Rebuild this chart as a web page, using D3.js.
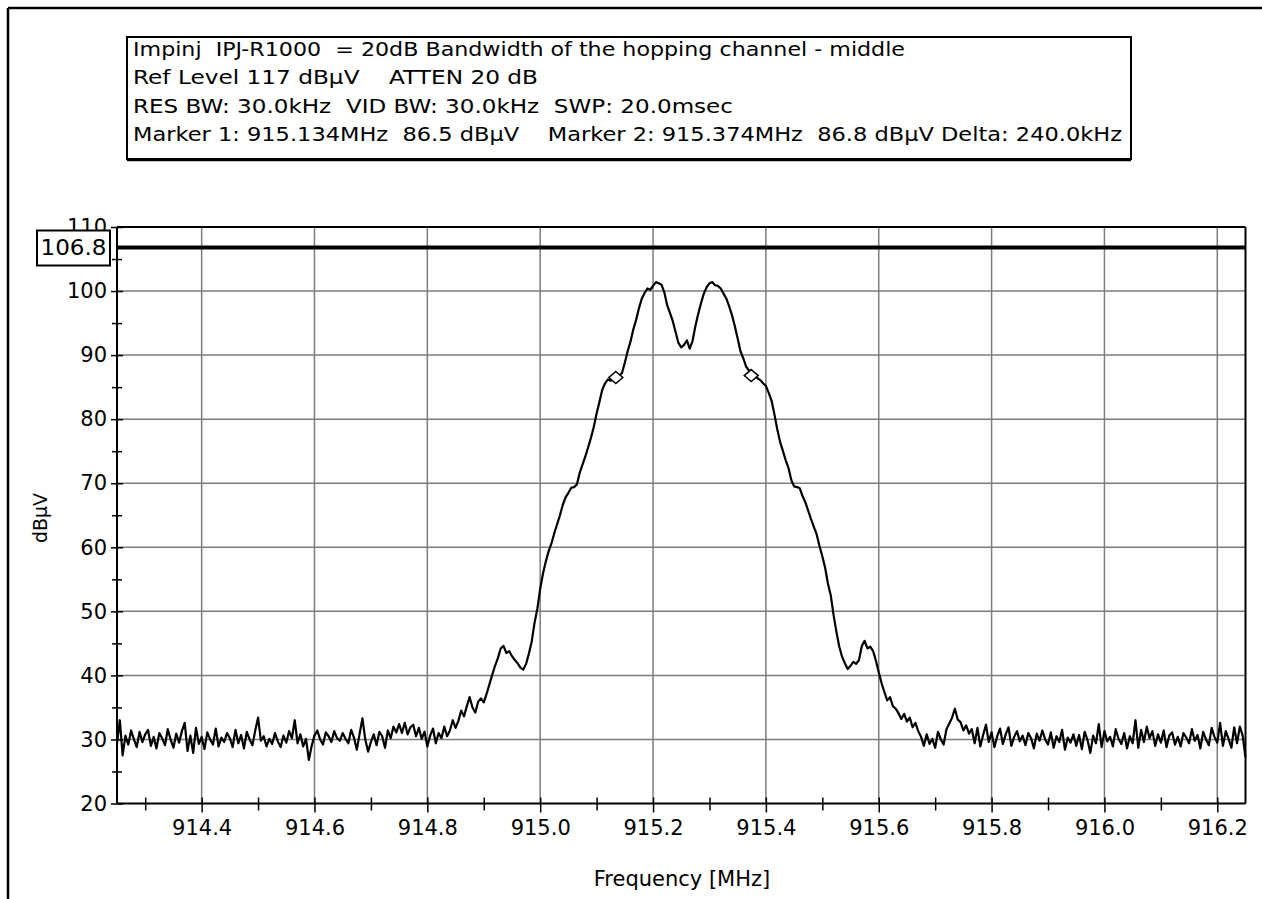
<!DOCTYPE html>
<html><head><meta charset="utf-8">
<script src="https://cdn.jsdelivr.net/npm/d3@7/dist/d3.min.js"></script>
<style>
html,body{margin:0;padding:0;background:#fff;}
svg{display:block;}
text{font-family:"DejaVu Sans",Verdana,sans-serif;fill:#000;}
</style></head>
<body>
<svg id="chart" width="1262" height="899"></svg>
<script>
// ---------- data ----------
const titleLines = [
  "Impinj  IPJ-R1000  = 20dB Bandwidth of the hopping channel - middle",
  "Ref Level 117 dB\u03bcV    ATTEN 20 dB",
  "RES BW: 30.0kHz  VID BW: 30.0kHz  SWP: 20.0msec",
  "Marker 1: 915.134MHz  86.5 dB\u03bcV    Marker 2: 915.374MHz  86.8 dB\u03bcV Delta: 240.0kHz"
];
const titleWidths = [772, 405, 600, 989];
const xTickValues = [914.4, 914.6, 914.8, 915.0, 915.2, 915.4, 915.6, 915.8, 916.0, 916.2];
const xMinorTicks = [914.3, 914.5, 914.7, 914.9, 915.1, 915.3, 915.5, 915.7, 915.9, 916.1];
const yTickValues = [20, 30, 40, 50, 60, 70, 80, 90, 100, 110];
const yMinorTicks = [25, 35, 45, 55, 65, 75, 85, 95, 105];
const freqStart = 914.25, freqStop = 916.25, sweepPoints = 401;
const refLine = 106.8;
const markerFreqs = [915.134, 915.374];
const markerLevels = [86.5, 86.8];
const traceLevels = [
 29.4,33.0,27.5,30.6,29.2,31.4,30.0,28.8,31.2,29.6,30.8,31.5,29.0,30.4,28.6,31.0,30.2,29.1,31.6,30.0,
 28.7,30.9,29.5,31.3,32.6,28.2,30.6,27.9,31.8,29.3,30.4,28.5,31.1,30.0,29.2,31.7,28.9,30.3,29.6,31.0,
 30.2,28.8,31.5,29.4,30.7,28.6,31.2,30.0,29.1,31.4,33.4,29.8,30.5,28.9,30.1,29.3,31.0,29.7,28.8,30.6,
 29.5,31.3,30.2,33.0,29.4,30.8,28.9,30.1,26.8,29.0,30.6,31.4,30.0,29.2,31.1,30.5,29.6,31.3,30.2,29.8,
 31.0,30.1,29.4,31.5,30.3,28.4,30.9,33.3,30.0,28.1,29.6,30.8,29.1,31.2,30.5,28.7,31.4,30.2,32.0,31.1,
 32.4,31.0,32.6,30.8,31.9,32.3,30.5,31.8,30.1,31.2,28.9,30.6,31.7,29.4,31.0,30.2,32.0,30.5,31.4,33.0,
 31.8,32.9,34.5,33.6,35.2,36.6,35.0,34.2,35.9,36.4,35.8,37.1,38.6,40.1,41.5,42.7,44.2,44.6,43.5,43.8,
 43.0,42.4,41.9,41.2,40.9,41.8,43.4,45.3,48.2,50.4,53.5,55.9,57.8,59.4,60.6,62.2,63.6,65.0,66.6,67.8,
 68.5,69.3,69.4,69.8,71.6,72.9,74.2,75.6,77.1,78.8,80.9,82.7,84.6,85.6,86.2,86.0,86.5,86.3,86.8,87.2,
 88.8,90.6,92.1,94.0,95.5,97.3,98.8,99.7,100.4,100.2,100.8,101.4,101.2,101.0,99.8,97.8,96.6,95.3,93.6,91.9,
 91.2,91.6,92.3,91.0,92.2,94.5,96.4,98.1,99.6,100.6,101.2,101.4,100.9,100.8,100.4,99.6,98.8,97.6,96.2,94.5,
 92.6,90.6,89.5,88.2,87.6,87.0,86.9,86.4,86.1,85.6,85.2,84.1,82.9,80.8,78.5,76.5,75.1,73.6,72.4,70.5,
 69.5,69.4,69.2,68.0,67.0,65.7,64.4,63.2,62.0,60.2,58.6,56.8,54.3,52.5,49.4,46.8,44.5,42.9,41.9,41.0,
 41.5,42.1,41.8,42.4,44.6,45.4,44.2,44.5,43.8,42.3,40.5,38.8,37.4,36.1,36.6,35.2,34.8,34.1,33.2,34.0,
 32.8,33.4,31.9,32.6,31.3,30.4,29.0,30.8,29.3,30.1,28.7,31.2,30.0,29.2,31.6,32.5,33.4,34.8,33.1,32.7,
 31.4,32.2,30.9,31.6,29.4,31.8,28.9,30.7,32.3,29.6,31.1,28.8,30.5,31.7,29.3,30.8,31.9,29.0,30.4,31.3,
 29.7,30.6,29.1,31.0,30.2,28.6,30.9,29.8,31.4,30.0,29.2,31.1,28.7,30.5,29.6,31.5,28.4,30.3,29.5,30.8,
 29.0,30.7,28.5,31.2,29.9,27.9,30.6,29.4,32.4,28.8,31.3,29.7,30.4,28.9,31.6,30.1,29.3,31.0,28.6,30.5,
 29.4,33.0,28.7,31.5,29.6,32.0,30.2,31.3,29.0,30.8,29.5,31.4,28.8,30.6,31.1,29.2,30.4,28.9,31.0,30.3,
 29.4,31.6,29.8,30.7,28.6,31.2,30.0,29.1,31.8,30.4,29.5,32.6,29.0,31.3,30.1,28.7,31.9,29.4,32.0,30.6,
 27.2
];

// ---------- layout ----------
const FONT = "DejaVu Sans, Verdana, sans-serif";
const svg = d3.select("#chart");
const x = d3.scaleLinear().domain([freqStart, freqStop]).range([117, 1245.5]);
const y = d3.scaleLinear().domain([20, 110]).range([803.5, 227]);
const step = (freqStop - freqStart) / (sweepPoints - 1);
const trace = traceLevels.map((v, i) => [freqStart + i * step, v]);

// outer frame lines
svg.append("line").attr("x1", 8).attr("x2", 8).attr("y1", 8).attr("y2", 899)
  .attr("stroke", "#000").attr("stroke-width", 2.5);
svg.append("line").attr("x1", 8).attr("x2", 1262).attr("y1", 8).attr("y2", 8)
  .attr("stroke", "#000").attr("stroke-width", 2.5);

// title box
const tb = svg.append("g");
tb.append("rect").attr("x", 127).attr("y", 37).attr("width", 1004).attr("height", 122)
  .attr("fill", "#fff").attr("stroke", "#000").attr("stroke-width", 2);
tb.append("line").attr("x1", 127).attr("x2", 1131).attr("y1", 160.5).attr("y2", 160.5)
  .attr("stroke", "#000").attr("stroke-width", 1.5);
tb.selectAll("text").data(titleLines).join("text")
  .attr("x", 133).attr("y", (d, i) => 55.5 + i * 28.6)
  .attr("font-size", 19).attr("xml:space", "preserve").style("white-space", "pre")
  .attr("textLength", (d, i) => titleWidths[i]).attr("lengthAdjust", "spacingAndGlyphs")
  .text(d => d);

// gridlines
const g = svg.append("g");
g.selectAll("line.vg").data(xTickValues).join("line").attr("class", "vg")
  .attr("x1", d => x(d)).attr("x2", d => x(d)).attr("y1", y(110)).attr("y2", y(20))
  .attr("stroke", "#7d7d7d").attr("stroke-width", 1.5);
g.selectAll("line.hg").data(yTickValues.filter(v => v > 20 && v < 110)).join("line").attr("class", "hg")
  .attr("x1", x(freqStart)).attr("x2", x(freqStop)).attr("y1", d => y(d)).attr("y2", d => y(d))
  .attr("stroke", "#7d7d7d").attr("stroke-width", 1.5);

// y axis (ticks crossing the axis line)
const yAxis = svg.append("g").attr("transform", `translate(${x(freqStart)},0)`)
  .call(d3.axisLeft(y).tickValues(yTickValues).tickSize(6).tickPadding(4).tickFormat(d3.format("d")));
yAxis.select(".domain").remove();
yAxis.selectAll(".tick line").attr("x1", 6).attr("stroke", "#000").attr("stroke-width", 1.5);
yAxis.selectAll(".tick text").attr("font-size", 21).attr("font-family", FONT).attr("fill", "#000");
const yMinor = svg.append("g").attr("transform", `translate(${x(freqStart)},0)`)
  .call(d3.axisLeft(y).tickValues(yMinorTicks).tickSize(5).tickFormat(""));
yMinor.select(".domain").remove();
yMinor.selectAll(".tick line").attr("x1", 5).attr("stroke", "#000").attr("stroke-width", 1.5);

// x axis
const xAxis = svg.append("g").attr("transform", `translate(0,${y(20)})`)
  .call(d3.axisBottom(x).tickValues(xTickValues).tickSize(9).tickPadding(8).tickFormat(d3.format(".1f")));
xAxis.select(".domain").remove();
xAxis.selectAll(".tick line").attr("y1", -6).attr("stroke", "#000").attr("stroke-width", 1.5);
xAxis.selectAll(".tick text").attr("font-size", 21).attr("font-family", FONT).attr("fill", "#000");
const xMinor = svg.append("g").attr("transform", `translate(0,${y(20)})`)
  .call(d3.axisBottom(x).tickValues(xMinorTicks).tickSize(7).tickFormat(""));
xMinor.select(".domain").remove();
xMinor.selectAll(".tick line").attr("y1", -6).attr("stroke", "#000").attr("stroke-width", 1.5);

// plot frame
svg.append("line").attr("x1", x(freqStart)).attr("x2", x(freqStart)).attr("y1", y(110)).attr("y2", y(20))
  .attr("stroke", "#000").attr("stroke-width", 2);
svg.append("line").attr("x1", x(freqStart)).attr("x2", x(freqStop)).attr("y1", y(20)).attr("y2", y(20))
  .attr("stroke", "#000").attr("stroke-width", 2);
svg.append("line").attr("x1", x(freqStart)).attr("x2", x(freqStop)).attr("y1", y(110)).attr("y2", y(110))
  .attr("stroke", "#000").attr("stroke-width", 2);
svg.append("line").attr("x1", x(freqStop)).attr("x2", x(freqStop)).attr("y1", y(110)).attr("y2", y(20))
  .attr("stroke", "#000").attr("stroke-width", 2);

// reference line
svg.append("line").attr("x1", x(freqStart)).attr("x2", x(freqStop)).attr("y1", y(refLine)).attr("y2", y(refLine))
  .attr("stroke", "#000").attr("stroke-width", 4);
const rb = svg.append("g");
rb.append("rect").attr("x", 37).attr("y", y(refLine) - 17).attr("width", 73).attr("height", 35)
  .attr("fill", "#fff").attr("stroke", "#000").attr("stroke-width", 2);
rb.append("text").attr("x", 73.5).attr("y", y(refLine) + 8).attr("text-anchor", "middle")
  .attr("font-size", 21).attr("textLength", 66).attr("lengthAdjust", "spacingAndGlyphs")
  .text(refLine.toFixed(1));

// trace
svg.append("path").datum(trace)
  .attr("fill", "none").attr("stroke", "#000").attr("stroke-width", 2.2).attr("stroke-linejoin", "round")
  .attr("d", d3.line().x(d => x(d[0])).y(d => y(d[1])));

// markers
svg.selectAll("path.mk").data(markerFreqs).join("path").attr("class", "mk")
  .attr("transform", (d, i) => `translate(${x(d)},${y(markerLevels[i])})`)
  .attr("d", "M0,-6 L7,0 L0,6 L-7,0 Z")
  .attr("fill", "#fff").attr("stroke", "#000").attr("stroke-width", 1.5);

// axis titles
svg.append("text").attr("x", 682).attr("y", 886).attr("text-anchor", "middle")
  .attr("font-size", 21).text("Frequency [MHz]");
svg.append("text").attr("transform", "translate(47,518) rotate(-90)").attr("text-anchor", "middle")
  .attr("font-size", 19).text("dB\u03bcV");
</script>
</body></html>
